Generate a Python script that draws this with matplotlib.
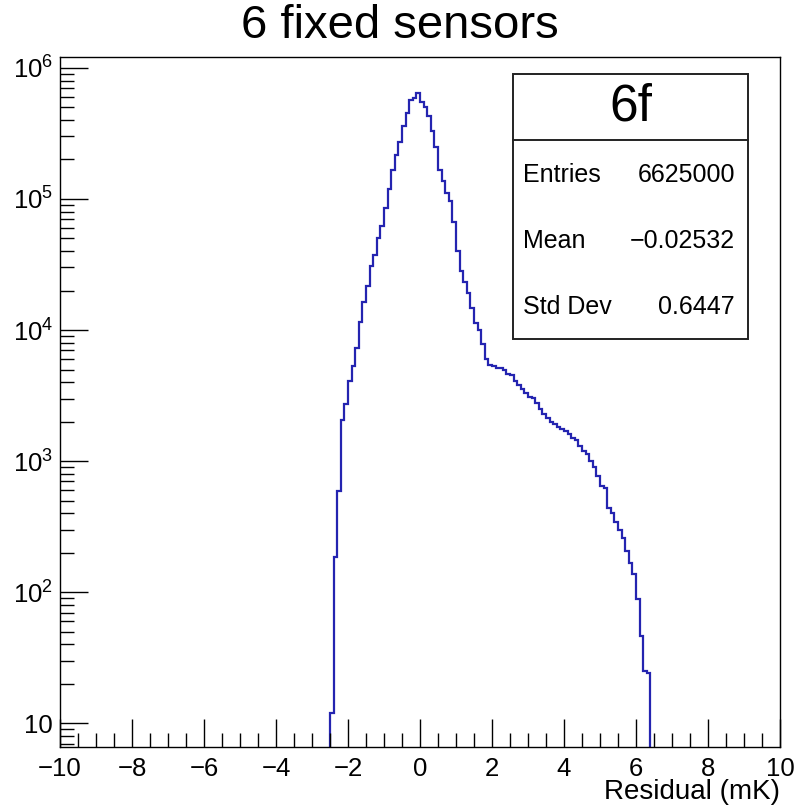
import numpy as np
import matplotlib
matplotlib.use("Agg")
import matplotlib.pyplot as plt
from matplotlib.patches import Rectangle
from matplotlib.lines import Line2D
from matplotlib.ticker import FixedLocator, MultipleLocator, LogLocator, NullFormatter

plt.rcParams['font.family'] = ['Liberation Sans', 'DejaVu Sans']
plt.rcParams['mathtext.fontset'] = 'custom'
plt.rcParams['mathtext.rm'] = 'Liberation Sans'
plt.rcParams['mathtext.it'] = 'Liberation Sans:italic'

# residual histogram, 0.1 mK bins, first bin starts at -2.5 mK
bin_width = 0.1
first_edge = -2.5
counts = [
    12, 185, 587, 2050, 2735, 4080, 5310, 7260, 11500, 16500,
    21700, 30900, 37600, 50400, 61800, 85500, 119000, 165000, 215000, 272000,
    358000, 453000, 573000, 589000, 640000,
    550000, 503000, 430000, 330000, 249000, 165000, 138000, 111000, 97200, 66400,
    39800, 28000, 23300, 19300, 14800, 11400, 9960, 7870, 6040, 5380,
    5300, 5160, 5130, 4920, 4640, 4510, 4080, 3800, 3540, 3320,
    3090, 3020, 2780, 2510, 2300, 2140, 2000, 1910, 1810, 1750,
    1690, 1600, 1500, 1440, 1300, 1200, 1130, 997, 897, 775,
    641, 619, 438, 401, 346, 299, 258, 207, 166, 137,
    89, 46, 25, 24,
]
counts = np.array(counts, dtype=float)
edges = first_edge + bin_width * np.arange(len(counts) + 1)

hist_name = "6f"
stats_labels = ["Entries", "Mean", "Std Dev"]
stats_values = ["6625000", "\u22120.02532", "0.6447"]

W, H = 795, 809
fig = plt.figure(figsize=(W / 100, H / 100), dpi=100)
ax = fig.add_axes([60 / W, 1 - 747 / H, 720 / W, 690 / H])

ax.stairs(counts, edges, baseline=1, color='#2424b0', lw=1.6)

ax.set_yscale('log')
ax.set_xlim(-10, 10)
ax.set_ylim(6.6, 1.21e6)

ax.xaxis.set_minor_locator(MultipleLocator(0.5))
ax.set_xticks(np.arange(-10, 11, 2))
ax.set_xticklabels(["\u2212%d" % -v if v < 0 else "%d" % v for v in range(-10, 11, 2)])

ydec = [10, 1e2, 1e3, 1e4, 1e5, 1e6]
ax.yaxis.set_major_locator(FixedLocator(ydec))
ax.set_yticks(ydec)
ax.set_yticklabels(["10", "$10^{2}$", "$10^{3}$", "$10^{4}$", "$10^{5}$", "$10^{6}$"])
ax.yaxis.set_minor_locator(LogLocator(base=10, subs=np.arange(2, 10)))
ax.yaxis.set_minor_formatter(NullFormatter())

ax.tick_params(which='both', direction='in', top=False, right=False, width=1.0, color='black')
ax.tick_params(which='major', length=20)
ax.tick_params(which='minor', length=10)
ax.tick_params(axis='x', labelsize=18.5, pad=7)
ax.tick_params(axis='y', labelsize=18.5, pad=5)
for s in ax.spines.values():
    s.set_linewidth(1.0)
    s.set_color('black')

fig.text(400 / W, 1 - 26 / H, "6 fixed sensors", ha='center', va='center', fontsize=34)
fig.text(780 / W, 1 - 792 / H, "Residual (mK)", ha='right', va='center', fontsize=20)

# stats box
bx0, bx1 = 513 / W, 748 / W
by0, by1 = 1 - 339 / H, 1 - 74 / H
fig.add_artist(Rectangle((bx0, by0), bx1 - bx0, by1 - by0, transform=fig.transFigure,
                         facecolor='white', edgecolor='#222222', lw=1.4, zorder=5))
ydiv = 1 - 140 / H
fig.add_artist(Line2D([bx0, bx1], [ydiv, ydiv], transform=fig.transFigure,
                      color='#222222', lw=1.4, zorder=6))
fig.text((bx0 + bx1) / 2, 1 - 107 / H, hist_name, ha='center', va='center',
         fontsize=37, zorder=7)
rows_y = [175, 241, 307]
for lab, val, yy in zip(stats_labels, stats_values, rows_y):
    fig.text(523 / W, 1 - yy / H, lab, ha='left', va='center', fontsize=18, zorder=7)
    fig.text(735 / W, 1 - yy / H, val, ha='right', va='center', fontsize=18, zorder=7)

fig.savefig("out.png", dpi=100)
